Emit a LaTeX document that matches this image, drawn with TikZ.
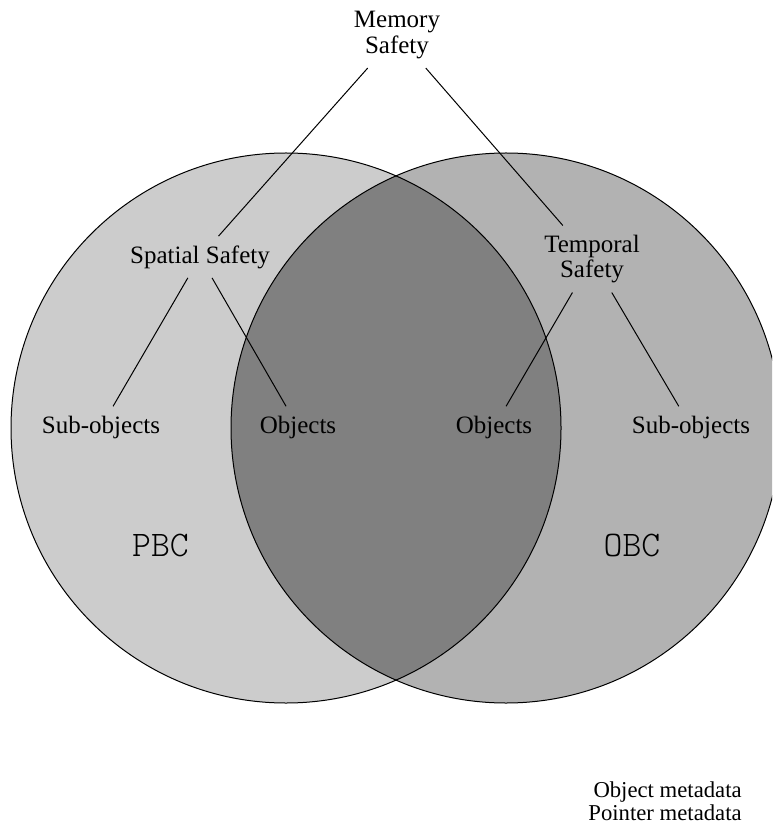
\documentclass[tikz,border=0pt]{standalone}
\usepackage{fontspec}
\setmainfont{Liberation Serif}
\newfontfamily\setmono{Latin Modern Mono Light}
\begin{document}
\begin{tikzpicture}[x=0.5pt,y=-0.5pt,
  lbl/.style={font=\fontsize{12.5}{12.75}\selectfont, inner sep=4.5pt, align=center},
  setlbl/.style={font=\fontsize{18}{18}\selectfont\setmono, inner sep=2pt},
  legend/.style={font=\fontsize{11.35}{12}\selectfont, inner sep=0pt, anchor=base east},
  conn/.style={draw=black, line width=0.5pt},
  setline/.style={draw=black, line width=0.5pt}]
\useasboundingbox (0,0) rectangle (772,833);
\clip (0,0) rectangle (772,833);
% sets
\fill[black!20] (286,428) circle (137.5pt);
\fill[black!30] (506,428) circle (137.5pt);
\begin{scope}
  \clip (286,428) circle (137.5pt);
  \fill[black!50] (506,428) circle (137.5pt);
\end{scope}
\draw[setline] (286,428) circle (137.5pt);
\draw[setline] (506,428) circle (137.5pt);
% labels
\node[lbl] (mem) at (397,35) {Memory\\Safety};
\node[lbl] (spa) at (200,257) {Spatial Safety};
\node[lbl] (tem) at (592,259) {Temporal\\Safety};
\node[lbl] (subl) at (101,427) {Sub-objects};
\node[lbl] (objl) at (298,427) {Objects};
\node[lbl] (objr) at (494,427) {Objects};
\node[lbl] (subr) at (691,427) {Sub-objects};
\node[setlbl] (pbc) at (160.5,545) {PBC};
\node[setlbl] (obc) at (632,545) {OBC};
\node[legend] (leg1) at (742,797) {Object metadata};
\node[legend] (leg2) at (742,820) {Pointer metadata};
% connectors
\draw[conn] (mem) -- (spa);
\draw[conn] (mem) -- (tem);
\draw[conn] (spa) -- (subl);
\draw[conn] (spa) -- (objl);
\draw[conn] (tem) -- (objr);
\draw[conn] (tem) -- (subr);
\end{tikzpicture}
\end{document}
